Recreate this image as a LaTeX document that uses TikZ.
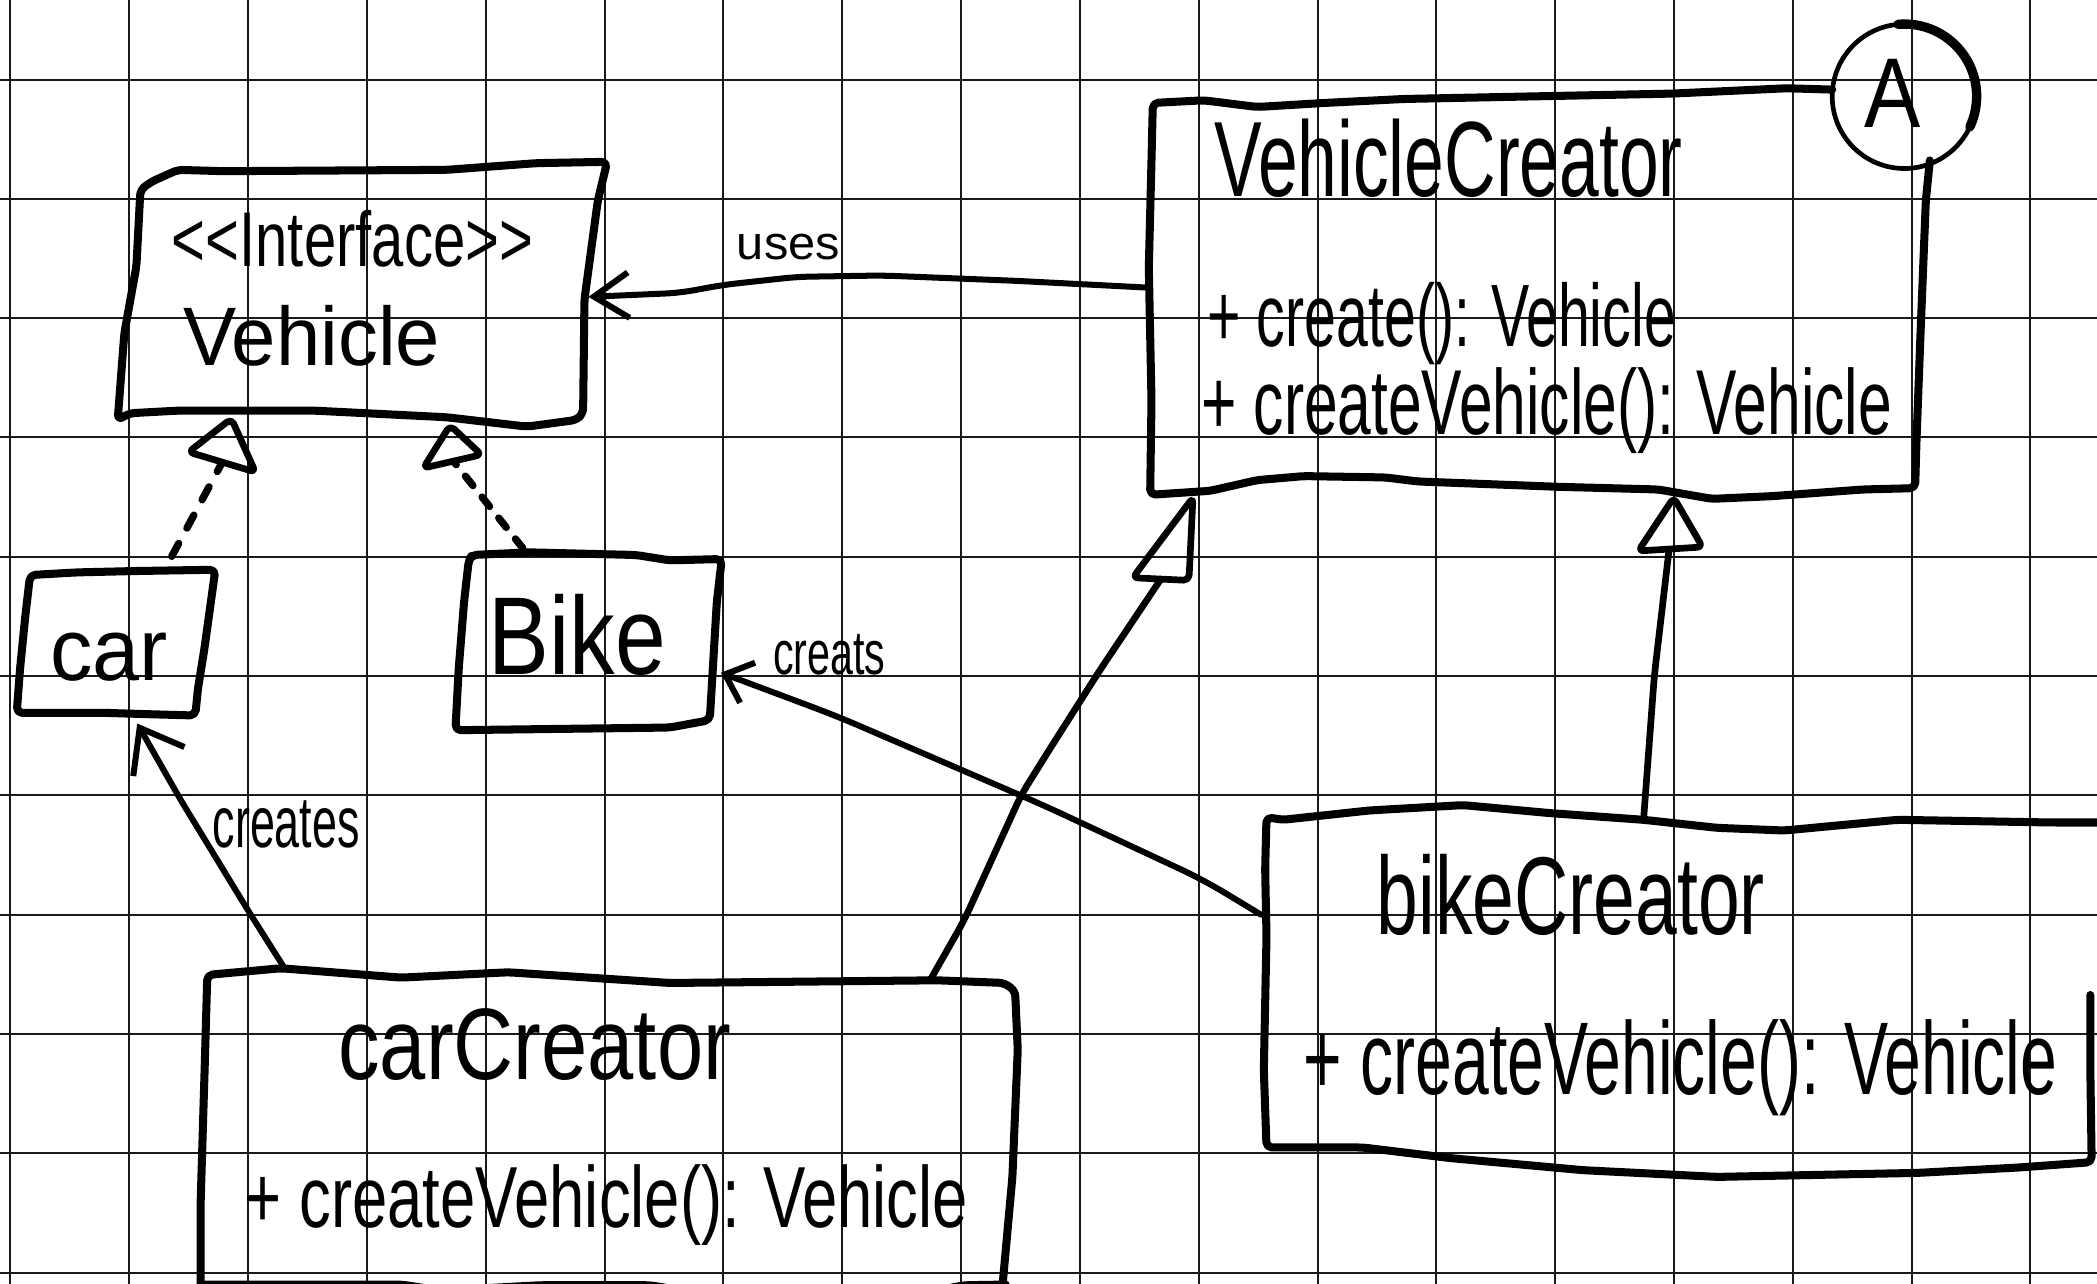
\documentclass[tikz,border=0pt]{standalone}
\usepackage{fontspec}
\usepackage{graphicx}
\newfontfamily\handfont{Liberation Sans}
\usetikzlibrary{arrows.meta}

% text fitted into a given width and height (pt), baseline kept
\newcommand\hand[3]{\resizebox{#1pt}{#2pt}{\handfont #3}}

\tikzset{
  gridline/.style={line width=1.5pt, black!90},
  pen/.style={line width=6pt, black, line join=round, line cap=round, rounded corners=4pt},
  wire/.style={line width=4.5pt, black, line join=round, line cap=round, rounded corners=10pt},
  realize/.style={line width=5.5pt, black, line cap=round, dash pattern=on 11pt off 13pt},
  txt/.style={anchor=base west, inner sep=0pt, outer sep=0pt},
}

\begin{document}
\begin{tikzpicture}[x=1pt, y=-1pt]
\useasboundingbox (0,0) rectangle (1568,960);
\clip (0,0) rectangle (1568,960);
\fill[white] (0,0) rectangle (1568,960);

% squared paper
\foreach \k in {0,...,17} \draw[gridline] ({7.8+88.85*\k},0) -- ({7.8+88.85*\k},960);
\foreach \k in {0,...,10} \draw[gridline] (0,{59.5+89.2*\k}) -- (1568,{59.5+89.2*\k});

% ---------- <<Interface>> Vehicle ----------
\draw[pen] (105,142) -- (113,136) -- (133,127) -- (167,128) -- (334,127) -- (401,122) -- (454,121)
  -- (447,150) -- (437,224) -- (436,309) -- (431,314) -- (394,319) -- (334,312) -- (234,307)
  -- (134,307) -- (97,309) -- (88,314) -- (93,249) -- (102,199) -- cycle;
\coordinate (vi-s1) at (173,313);
\coordinate (vi-s2) at (336.5,318);
\coordinate (vi-e) at (440,222);
\node[txt] (vi-stereo) at (128.5,199.5) {\hand{270}{42}{<<Interface>>}};
\node[txt] (vi-name) at (137,273) {\hand{192}{45}{Vehicle}};

% ---------- VehicleCreator (abstract) ----------
\draw[pen] (1370,67) -- (1336,66) -- (1250,70) -- (1150,72) -- (1050,74) -- (990,77) -- (940,80)
  -- (900,75) -- (862,77) -- (861,120) -- (859,200) -- (861,300) -- (860,370) -- (905,367)
  -- (940,359) -- (975,356) -- (1036,357) -- (1060,360) -- (1165,364) -- (1240,366) -- (1280,373)
  -- (1325,371) -- (1393,366) -- (1432,365) -- (1433,330) -- (1436,250) -- (1440,150) -- (1443,120);
\node[circle, draw, line width=3.5pt, minimum size=108pt, inner sep=0pt] (abs) at (1424,72) {};
\draw[line width=7pt, line cap=round] (1424,72) ++(-95:54) arc[start angle=-95, end angle=25, radius=54];
\node[txt] (abs-a) at (1394,95) {\hand{42}{51}{A}};
\coordinate (vc-w) at (857,215);
\coordinate (vc-s1) at (892,372);
\coordinate (vc-s2) at (1251.5,372);
\node[txt] (vc-name) at (908,147) {\hand{350}{58}{VehicleCreator}};
\node[txt] (vc-op1) at (903,259) {\hand{350}{48}{+ create(): Vehicle}};
\node[txt] (vc-op2) at (898.5,325) {\hand{516}{50}{+ createVehicle(): Vehicle}};

% ---------- Car ----------
\draw[pen] (22.5,430) -- (57.6,428) -- (100,427) -- (161,426) -- (157,455) -- (152.7,486)
  -- (148,515) -- (146,535) -- (110,534) -- (77.6,533) -- (12.5,533) -- (15,500) -- (19,460) -- cycle;
\coordinate (car-n) at (128.4,416);
\coordinate (car-s) at (102.6,541);
\node[txt] (car-name) at (37.5,508.5) {\hand{88}{35.5}{car}};

% ---------- Bike ----------
\draw[pen] (353,415) -- (395.5,413) -- (475.7,415) -- (500.7,419) -- (539.7,418) -- (536,450)
  -- (533,500) -- (530.7,538.5) -- (500.7,544) -- (420,545) -- (340.5,546) -- (343,500)
  -- (347,450) -- (350.5,419) -- cycle;
\coordinate (bike-n) at (391,410);
\coordinate (bike-e) at (539,503);
\node[txt] (bike-name) at (365.5,504.7) {\hand{132.5}{60}{Bike}};

% ---------- carCreator ----------
\draw[pen] (150,968) -- (150,900) -- (153,800) -- (155,729) -- (210,724) -- (300,731) -- (380,727)
  -- (501,735) -- (701,733) -- (751,735) -- (759,741) -- (761,785) -- (757,880) -- (749,968);
\draw[pen] (150,960.5) -- (300,960.5) -- (330,965) -- (404,961) -- (486,961) -- (510,965)
  -- (700,965) -- (721,961) -- (752,960.5);
\coordinate (cc-n) at (212.8,724);
\coordinate (cc-ne) at (696,732);
\node[txt] (cc-name) at (253,807.5) {\hand{293.5}{53}{carCreator}};
\node[txt] (cc-op) at (183,918) {\hand{540.5}{47}{+ createVehicle(): Vehicle}};

% ---------- bikeCreator ----------
\draw[pen] (1575,615) -- (1534,615) -- (1419,613) -- (1334,621) -- (1284,619) -- (1229,613)
  -- (1159,608) -- (1094,602) -- (1024,606) -- (959,613) -- (947,611) -- (946,650) -- (947,700)
  -- (945,800) -- (947,858) -- (1019,858) -- (1085,866) -- (1184,875) -- (1284,880) -- (1434,877)
  -- (1509,873) -- (1564,869) -- (1563,800) -- (1563,744);
\coordinate (bc-n) at (1229,612);
\coordinate (bc-w) at (943,684);
\node[txt] (bc-name) at (1029.6,699) {\hand{290}{60}{bikeCreator}};
\node[txt] (bc-op) at (975,818.7) {\hand{563}{56}{+ createVehicle(): Vehicle}};

% ---------- uses ----------
\draw[wire, -{Straight Barb[length=26pt,width=34pt]}] (vc-w) -- (760,210) -- (660,206) -- (596,207)
  -- (541,213) -- (508,219) -- (vi-e);
\node[txt] (uses-lbl) at (551,194.4) {\hand{77}{19}{uses}};

% ---------- creates (car) ----------
\draw[wire, -{Straight Barb[length=29pt,width=44pt]}] (cc-n) -- (185,680) -- (135,598) -- (car-s);
\node[txt] (car-lbl) at (159,634) {\hand{110}{35}{creates}};

% ---------- creates (bike) ----------
\draw[wire, rounded corners=18pt, -{Straight Barb[length=18pt,width=32pt]}] (bc-w) -- (900,658)
  -- (780,602) -- (626,535.6) -- (bike-e);
\node[txt] (bike-lbl) at (578,504.7) {\hand{84}{30}{creats}};

% ---------- realizations of Vehicle ----------
\draw[pen, line width=5pt] (vi-s1) -- (141,338) -- (191,353) -- cycle;
\draw[realize] (car-n) -- (166,346);
\draw[pen, line width=5pt] (vi-s2) -- (316.5,350) -- (360,340) -- cycle;
\draw[realize, dash pattern=on 9pt off 11pt] (bike-n) -- (340,346);

% ---------- generalizations of VehicleCreator ----------
\draw[pen, line width=5pt] (vc-s1) -- (847,432) -- (889,434) -- cycle;
\draw[wire, line width=5pt] (cc-ne) -- (721,688) -- (763.5,594.5) -- (785,560) -- (822.5,501) -- (868,433);
\draw[pen, line width=5pt] (vc-s2) -- (1225,412) -- (1273,409) -- cycle;
\draw[wire, line width=5pt] (bc-n) -- (1237,505) -- (1248,411);
\end{tikzpicture}
\end{document}
